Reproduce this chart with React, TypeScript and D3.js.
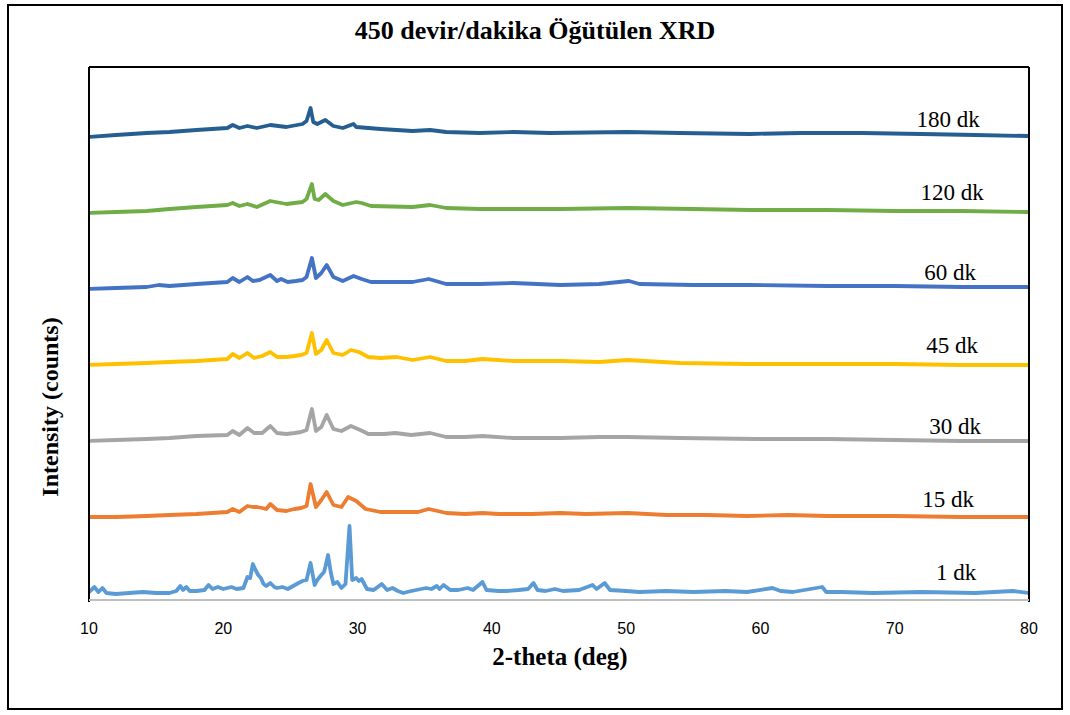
import React from "react";
import * as d3 from "d3";

type P = [number, number];

const title = "450 devir/dakika Öğütülen XRD";
const xLabel = "2-theta (deg)";
const yLabel = "Intensity (counts)";
const xTicks = [10, 20, 30, 40, 50, 60, 70, 80];

const seriesNames = ["1 dk", "15 dk", "30 dk", "45 dk", "60 dk", "120 dk", "180 dk"];
const seriesColors = ["#5B9BD5", "#ED7D31", "#A5A5A5", "#FFC000", "#4472C4", "#70AD47", "#255E91"];

const dk1: P[] = [
  [10.0, 70], [10.4, 120], [10.7, 70], [11.0, 110], [11.3, 60], [12.0, 50], [13.0, 60], [14.0, 70],
  [15.0, 60], [16.0, 60], [16.5, 80], [16.8, 130], [17.0, 90], [17.25, 120], [17.5, 80], [18.0, 80],
  [18.6, 90], [18.9, 140], [19.2, 100], [19.6, 120], [20.0, 100], [20.6, 120], [21.0, 100], [21.5, 110],
  [21.8, 220], [22.0, 210], [22.2, 350], [22.4, 290], [22.6, 240], [22.8, 210], [23.0, 150], [23.2, 130],
  [23.5, 160], [23.8, 120], [24.0, 110], [24.4, 120], [24.8, 100], [25.2, 130], [25.6, 160], [25.9, 180],
  [26.2, 190], [26.5, 360], [26.8, 140], [27.0, 190], [27.3, 240], [27.5, 270], [27.6, 320], [27.8, 440],
  [28.0, 270], [28.2, 150], [28.5, 170], [28.8, 110], [29.1, 150], [29.4, 730], [29.6, 190], [29.9, 210],
  [30.1, 180], [30.3, 200], [30.7, 100], [31.2, 90], [31.8, 150], [32.2, 90], [32.6, 110], [33.0, 80],
  [33.4, 60], [34.0, 80], [35.1, 110], [35.5, 100], [35.9, 130], [36.1, 100], [36.4, 140], [36.9, 90],
  [37.5, 90], [38.2, 110], [38.6, 90], [39.3, 170], [39.6, 90], [40.5, 80], [41.1, 80], [42.0, 90],
  [42.7, 100], [43.1, 160], [43.4, 90], [44.0, 80], [44.7, 100], [45.3, 80], [46.5, 90], [47.5, 140],
  [47.8, 100], [48.4, 160], [48.8, 90], [50.0, 80], [51.0, 70], [53.0, 80], [55.0, 70], [57.4, 80],
  [59.0, 70], [60.9, 110], [61.5, 80], [62.4, 70], [64.6, 120], [64.9, 70], [66.0, 70], [68.4, 60],
  [72.0, 70], [76.0, 60], [78.8, 80], [80.0, 60],
];

const dk15: P[] = [
  [10.0, 820], [12.0, 820], [14.3, 830], [16.0, 840], [18.0, 850], [20.3, 870], [20.7, 900], [21.2, 870],
  [21.8, 930], [22.2, 920], [22.5, 920], [22.9, 910], [23.2, 900], [23.5, 950], [24.0, 890], [24.7, 880],
  [25.3, 900], [25.8, 910], [26.2, 930], [26.5, 1150], [26.9, 920], [27.3, 990], [27.7, 1070], [28.2, 940],
  [28.8, 920], [29.3, 1020], [29.9, 980], [30.6, 900], [31.7, 870], [33.0, 870], [34.5, 870], [35.3, 900],
  [36.6, 860], [38.0, 850], [39.3, 860], [40.5, 850], [41.6, 850], [43.0, 850], [45.1, 860], [47.0, 850],
  [50.1, 860], [53.0, 840], [56.0, 840], [59.0, 830], [62.0, 840], [65.0, 830], [70.0, 830], [75.0, 820],
  [80.0, 820],
];

const dk30: P[] = [
  [10.0, 1580], [12.0, 1590], [14.3, 1600], [16.0, 1610], [18.0, 1630], [20.3, 1640], [20.7, 1680],
  [21.2, 1640], [21.8, 1710], [22.3, 1660], [22.9, 1660], [23.5, 1730], [24.0, 1660], [24.7, 1650],
  [25.3, 1660], [25.8, 1670], [26.2, 1690], [26.6, 1900], [26.9, 1680], [27.3, 1720], [27.7, 1840],
  [28.2, 1700], [28.8, 1680], [29.5, 1730], [30.2, 1690], [30.8, 1650], [32.0, 1650], [32.8, 1660],
  [34.0, 1640], [35.4, 1660], [36.6, 1620], [38.0, 1620], [39.3, 1630], [41.6, 1610], [45.1, 1610],
  [48.0, 1620], [50.1, 1620], [54.0, 1610], [59.7, 1600], [65.0, 1600], [70.0, 1590], [75.0, 1580],
  [80.0, 1580],
];

const dk45: P[] = [
  [10.0, 2340], [12.0, 2350], [14.3, 2360], [16.0, 2370], [18.0, 2380], [20.3, 2400], [20.7, 2450],
  [21.2, 2410], [21.8, 2460], [22.3, 2410], [22.9, 2430], [23.5, 2470], [24.0, 2420], [24.7, 2420],
  [25.3, 2430], [25.8, 2440], [26.2, 2460], [26.6, 2660], [26.9, 2450], [27.3, 2490], [27.7, 2590],
  [28.2, 2460], [28.9, 2440], [29.5, 2490], [30.1, 2470], [30.8, 2420], [31.7, 2410], [32.9, 2420],
  [34.1, 2390], [35.4, 2420], [36.6, 2380], [38.0, 2380], [39.3, 2400], [41.6, 2380], [45.1, 2380],
  [48.0, 2370], [50.1, 2390], [54.0, 2360], [59.0, 2350], [65.0, 2350], [70.0, 2350], [75.0, 2340],
  [80.0, 2340],
];

const dk60: P[] = [
  [10.0, 3100], [12.0, 3110], [14.3, 3120], [15.2, 3140], [16.0, 3130], [18.0, 3150], [20.3, 3170],
  [20.7, 3210], [21.2, 3170], [21.8, 3220], [22.2, 3180], [22.7, 3190], [23.5, 3240], [24.0, 3180],
  [24.3, 3200], [24.8, 3170], [25.4, 3180], [25.9, 3190], [26.2, 3220], [26.6, 3410], [26.9, 3210],
  [27.3, 3260], [27.7, 3340], [28.2, 3220], [28.9, 3180], [29.7, 3230], [30.3, 3200], [31.0, 3170],
  [32.5, 3170], [34.1, 3170], [35.3, 3200], [36.6, 3150], [39.1, 3150], [41.6, 3160], [45.1, 3140],
  [48.0, 3150], [50.2, 3180], [51.0, 3150], [55.0, 3140], [59.2, 3140], [65.0, 3130], [70.0, 3130],
  [75.0, 3120], [80.0, 3120],
];

const dk120: P[] = [
  [10.0, 3860], [12.0, 3870], [14.3, 3880], [16.0, 3900], [18.0, 3920], [20.3, 3940], [20.7, 3960],
  [21.2, 3930], [21.8, 3950], [22.5, 3920], [23.5, 3980], [24.7, 3950], [25.9, 3970], [26.2, 4000],
  [26.6, 4150], [26.8, 4000], [27.1, 3990], [27.6, 4050], [28.2, 3980], [28.9, 3940], [29.9, 3970],
  [30.3, 3960], [31.0, 3930], [34.1, 3920], [35.4, 3940], [36.6, 3910], [39.1, 3900], [45.1, 3900],
  [50.1, 3910], [55.0, 3900], [59.2, 3890], [65.0, 3890], [70.0, 3880], [75.0, 3880], [80.0, 3870],
];

const dk180: P[] = [
  [10.0, 4620], [12.0, 4640], [14.3, 4660], [16.0, 4670], [18.0, 4690], [20.3, 4710], [20.7, 4740],
  [21.2, 4710], [21.8, 4730], [22.5, 4710], [23.5, 4740], [24.7, 4720], [25.9, 4750], [26.2, 4780],
  [26.5, 4910], [26.7, 4770], [27.0, 4750], [27.6, 4790], [28.2, 4730], [28.9, 4710], [29.7, 4750],
  [29.9, 4720], [31.7, 4700], [34.1, 4680], [35.4, 4690], [36.6, 4670], [39.1, 4660], [41.6, 4670],
  [44.3, 4660], [50.1, 4670], [54.0, 4660], [59.2, 4650], [63.0, 4660], [67.6, 4660], [72.0, 4650],
  [76.0, 4640], [80.0, 4630],
];

const seriesData: P[][] = [dk1, dk15, dk30, dk45, dk60, dk120, dk180];
const labelPos: P[] = [[956, 580], [948, 507], [955, 434], [952, 353], [950, 280], [952, 200], [948, 127]];

const W = 1070;
const H = 715;
const plot = { left: 89, right: 1029, top: 67, bottom: 599 };

export default function App() {
  const x = d3.scaleLinear().domain([10, 80]).range([plot.left, plot.right]);
  const y = d3.scaleLinear().domain([0, 5320]).range([plot.bottom, plot.top]);
  const line = d3
    .line<P>()
    .x((d) => x(d[0]))
    .y((d) => y(d[1]));

  return (
    <svg
      width={W}
      height={H}
      style={{ position: "absolute", left: 0, top: 0, background: "#fff" }}
      fontFamily="'Liberation Serif', 'Times New Roman', serif"
    >
      <rect x={0} y={0} width={W} height={H} fill="#fff" />
      <rect x={8} y={5} width={1054} height={704} fill="none" stroke="#000" strokeWidth={2} />
      <text x={535} y={39} textAnchor="middle" fontSize={26} fontWeight="bold" fill="#000">
        {title}
      </text>

      <defs>
        <clipPath id="clip">
          <rect x={plot.left + 1} y={plot.top + 1} width={plot.right - plot.left - 2} height={plot.bottom - plot.top} />
        </clipPath>
      </defs>

      <g clipPath="url(#clip)">
        {seriesData.map((d, i) => (
          <path
            key={seriesNames[i]}
            d={line(d) || ""}
            fill="none"
            stroke={seriesColors[i]}
            strokeWidth={3.8}
            strokeLinejoin="round"
            strokeLinecap="round"
          />
        ))}
      </g>

      {/* plot frame */}
      <line x1={plot.left} x2={plot.right} y1={plot.top} y2={plot.top} stroke="#000" strokeWidth={2} />
      <line x1={plot.right} x2={plot.right} y1={plot.top} y2={plot.bottom + 3} stroke="#000" strokeWidth={2} />
      <line x1={plot.left} x2={plot.left} y1={plot.top} y2={plot.bottom + 3} stroke="#000" strokeWidth={2} />
      <line x1={plot.left} x2={plot.right} y1={plot.bottom + 1} y2={plot.bottom + 1} stroke="#BFBFBF" strokeWidth={2} />

      {seriesNames.map((n, i) => (
        <text key={n} x={labelPos[i][0]} y={labelPos[i][1]} textAnchor="middle" fontSize={23} fill="#000">
          {n}
        </text>
      ))}

      {xTicks.map((t) => (
        <text
          key={t}
          x={x(t)}
          y={634}
          textAnchor="middle"
          fontSize={16}
          fontFamily="'Liberation Sans', Arial, sans-serif"
          fill="#000"
        >
          {t}
        </text>
      ))}

      <text x={560} y={665} textAnchor="middle" fontSize={25} fontWeight="bold" fill="#000">
        {xLabel}
      </text>
      <text
        transform="translate(58,407) rotate(-90)"
        textAnchor="middle"
        fontSize={24}
        fontWeight="bold"
        fill="#000"
      >
        {yLabel}
      </text>
    </svg>
  );
}
